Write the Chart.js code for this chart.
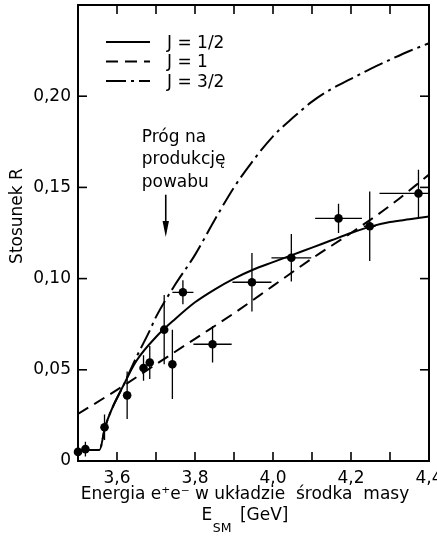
<!DOCTYPE html>
<html lang="pl">
<head>
<meta charset="utf-8">
<title>Stosunek R</title>
<script src="https://cdn.jsdelivr.net/npm/chart.js@4/dist/chart.umd.min.js"></script>
<style>
html,body{margin:0;padding:0;background:#fff;overflow:hidden;}
#wrap{position:relative;width:437px;height:536px;}
canvas{display:block;}
</style>
</head>
<body>
<div id="wrap"><canvas id="chart" width="437" height="536"></canvas></div>
<script>
// ---------- data ----------
const pointEnergy = [3.500, 3.519, 3.568, 3.626, 3.668, 3.684, 3.721, 3.742, 3.769, 3.845, 3.946, 4.047, 4.168, 4.248, 4.373];
const pointRatio  = [0.0050, 0.0065, 0.0185, 0.0360, 0.0510, 0.0540, 0.0720, 0.0530, 0.0925, 0.0640, 0.0980, 0.1114, 0.1330, 0.1287, 0.1467];
const ratioError  = [0.003, 0.004, 0.007, 0.013, 0.007, 0.009, 0.019, 0.019, 0.0066, 0.010, 0.016, 0.013, 0.008, 0.019, 0.013];
const energyError = [0, 0, 0, 0, 0, 0, 0, 0, 0.027, 0.049, 0.050, 0.051, 0.060, 0.015, 0.100];

const spinHalfEnergy = [3.50, 3.555, 3.57, 3.62, 3.65, 3.70, 3.75, 3.80, 3.85, 3.90, 3.95, 4.00, 4.05, 4.10, 4.15, 4.20, 4.25, 4.30, 4.35, 4.40];
const spinHalfRatio  = [0.006, 0.006, 0.019, 0.043, 0.055, 0.068, 0.078, 0.087, 0.094, 0.100, 0.105, 0.109, 0.113, 0.117, 0.121, 0.125, 0.1285, 0.131, 0.1325, 0.134];

const spinOneEnergy = [3.50, 3.60, 3.70, 3.80, 3.90, 4.00, 4.10, 4.20, 4.30, 4.40];
const spinOneRatio  = [0.0258, 0.039, 0.053, 0.067, 0.081, 0.096, 0.111, 0.125, 0.140, 0.157];

const spinThreeHalfEnergy = [3.50, 3.555, 3.57, 3.62, 3.65, 3.685, 3.70, 3.75, 3.80, 3.85, 3.90, 3.95, 4.00, 4.05, 4.10, 4.15, 4.20, 4.25, 4.30, 4.35, 4.40];
const spinThreeHalfRatio  = [0.006, 0.006, 0.019, 0.043, 0.057, 0.072, 0.079, 0.097, 0.113, 0.132, 0.150, 0.165, 0.178, 0.188, 0.197, 0.204, 0.2095, 0.215, 0.220, 0.2248, 0.229];

const seriesLabels = ['J = 1/2', 'J = 1', 'J = 3/2'];

const xTickValues = [3.6, 3.8, 4.0, 4.2, 4.4];
const xTickLabels = ['3,6', '3,8', '4,0', '4,2', '4,4'];
const xTickMarks  = [3.6, 3.7, 3.8, 3.9, 4.0, 4.1, 4.2, 4.3];
const yTickValues = [0, 0.05, 0.10, 0.15, 0.20];
const yTickLabels = ['0', '0,05', '0,10', '0,15', '0,20'];
const yTickMarks  = [0.05, 0.10, 0.15, 0.20];

const thresholdEnergy = 3.725;
const thresholdText = ['Próg na', 'produkcję', 'powabu'];
const yTitle = 'Stosunek R';
const xTitleLine1 = 'Energia e\u207Ae\u207B w układzie  środka  masy';

// ---------- build library data ----------
const toXY = (xs, ys) => xs.map((v, i) => ({x: v, y: ys[i]}));
const vBars = [];
pointEnergy.forEach((e, i) => {
  if (ratioError[i] > 0) {
    vBars.push({x: e, y: pointRatio[i] - ratioError[i]}, {x: e, y: pointRatio[i] + ratioError[i]}, {x: e, y: null});
  }
});
const hBars = [];
pointEnergy.forEach((e, i) => {
  if (energyError[i] > 0) {
    hBars.push({x: e - energyError[i], y: pointRatio[i]}, {x: e + energyError[i], y: pointRatio[i]}, {x: e, y: null});
  }
});

const FONT = '"DejaVu Sans", "Liberation Sans", sans-serif';
Chart.defaults.font.family = FONT;
Chart.defaults.color = '#000';

const decor = {
  id: 'decor',
  afterDraw(chart) {
    const {ctx, chartArea: a, scales} = chart;
    const sx = scales.x, sy = scales.y;
    const seg = (x1, y1, x2, y2) => { ctx.beginPath(); ctx.moveTo(x1, y1); ctx.lineTo(x2, y2); ctx.stroke(); };
    ctx.save();
    ctx.strokeStyle = '#000';
    ctx.fillStyle = '#000';
    ctx.lineCap = 'butt';
    // inward tick marks
    ctx.lineWidth = 1.6;
    const tl = 9;
    xTickMarks.forEach(v => {
      const px = sx.getPixelForValue(v);
      seg(px, a.bottom, px, a.bottom - tl);
      seg(px, a.top, px, a.top + tl);
    });
    yTickMarks.forEach(v => {
      const py = sy.getPixelForValue(v);
      seg(a.left, py, a.left + tl, py);
      seg(a.right, py, a.right - tl, py);
    });
    // legend
    const curves = chart.data.datasets.filter(d => seriesLabels.includes(d.label));
    ctx.font = '17px ' + FONT;
    ctx.textAlign = 'left';
    ctx.textBaseline = 'middle';
    curves.forEach((d, k) => {
      const yy = a.top + 37 + k * 19.5;
      ctx.lineWidth = d.borderWidth;
      ctx.setLineDash(d.borderDash || []);
      seg(a.left + 28, yy, a.left + 72, yy);
      ctx.setLineDash([]);
      ctx.fillText(d.label, a.left + 89, yy + 1.5);
    });
    // threshold arrow and note
    const ax = sx.getPixelForValue(thresholdEnergy);
    const ay1 = sy.getPixelForValue(0.146);
    const ay2 = sy.getPixelForValue(0.1228);
    ctx.lineWidth = 1.6;
    seg(ax, ay1, ax, ay2 - 10);
    ctx.beginPath();
    ctx.moveTo(ax - 3.2, ay2 - 16);
    ctx.lineTo(ax + 3.2, ay2 - 16);
    ctx.lineTo(ax, ay2);
    ctx.closePath();
    ctx.fill();
    ctx.textBaseline = 'alphabetic';
    thresholdText.forEach((t, i) => ctx.fillText(t, ax - 24, ay1 - 53 + i * 22.5));
    // y axis title
    ctx.save();
    ctx.translate(18, 216);
    ctx.rotate(-Math.PI / 2);
    ctx.textAlign = 'center';
    ctx.textBaseline = 'middle';
    ctx.fillText(yTitle, 0, 0);
    ctx.restore();
    // x axis title, line 1
    const cx = a.left + 167;
    ctx.textAlign = 'center';
    ctx.textBaseline = 'alphabetic';
    ctx.fillText(xTitleLine1, cx, 499);
    // line 2: E_SM [GeV]
    ctx.textAlign = 'left';
    const big = '17px ' + FONT, small = '12.5px ' + FONT;
    ctx.font = big; const wE = ctx.measureText('E').width; const wU = ctx.measureText('[GeV]').width;
    ctx.font = small; const wS = ctx.measureText('SM').width;
    const gap = 9;
    let x0 = cx - (wE + wS + gap + wU) / 2;
    ctx.font = big; ctx.fillText('E', x0, 520);
    ctx.font = small; ctx.fillText('SM', x0 + wE + 0.5, 531.5);
    ctx.font = big; ctx.fillText('[GeV]', x0 + wE + wS + gap, 520);
    ctx.restore();
  }
};

const noPad = s => { s.paddingLeft = 0; s.paddingRight = 0; s.paddingTop = 0; s.paddingBottom = 0; };

const axisBase = (min, max, pos) => ({
  type: 'linear', position: pos, min: min, max: max,
  grid: {display: false, drawTicks: false},
  border: {display: true, color: '#000', width: 2}
});

new Chart(document.getElementById('chart'), {
  type: 'line',
  data: {
    datasets: [
      {type: 'scatter', label: 'pomiary', data: toXY(pointEnergy, pointRatio), showLine: false,
       pointRadius: 4.3, pointBackgroundColor: '#000', pointBorderColor: '#000', pointBorderWidth: 0, clip: false, order: 0},
      {label: 'err-y', data: vBars, borderColor: '#000', borderWidth: 1.3, pointRadius: 0, spanGaps: false, tension: 0, order: 1},
      {label: 'err-x', data: hBars, borderColor: '#000', borderWidth: 1.3, pointRadius: 0, spanGaps: false, tension: 0, order: 1},
      {label: seriesLabels[0], data: toXY(spinHalfEnergy, spinHalfRatio), borderColor: '#000', borderWidth: 2,
       pointRadius: 0, cubicInterpolationMode: 'monotone', borderDash: [], order: 2},
      {label: seriesLabels[1], data: toXY(spinOneEnergy, spinOneRatio), borderColor: '#000', borderWidth: 2,
       pointRadius: 0, cubicInterpolationMode: 'monotone', borderDash: [12, 7], order: 2},
      {label: seriesLabels[2], data: toXY(spinThreeHalfEnergy, spinThreeHalfRatio), borderColor: '#000', borderWidth: 2,
       pointRadius: 0, cubicInterpolationMode: 'monotone', borderDash: [20, 5, 3, 5], order: 2}
    ]
  },
  options: {
    responsive: false,
    devicePixelRatio: 1,
    animation: false,
    events: [],
    layout: {padding: {left: 0, right: 8, top: 5, bottom: 0}},
    plugins: {legend: {display: false}, tooltip: {enabled: false}, title: {display: false}},
    scales: {
      x: Object.assign(axisBase(3.5, 4.4, 'bottom'), {
        afterBuildTicks: s => { s.ticks = xTickValues.map(v => ({value: v})); },
        afterFit: s => { s.height = 75; noPad(s); },
        ticks: {autoSkip: false, maxRotation: 0, minRotation: 0, padding: 7, color: '#000',
                font: {size: 17}, callback: (v, i) => xTickLabels[i]}
      }),
      xTop: Object.assign(axisBase(3.5, 4.4, 'top'), {
        ticks: {display: false}, afterFit: s => { s.height = 0; noPad(s); }
      }),
      y: Object.assign(axisBase(0, 0.25, 'left'), {
        afterBuildTicks: s => { s.ticks = yTickValues.map(v => ({value: v})); },
        afterFit: s => { s.width = 78; noPad(s); },
        ticks: {autoSkip: false, padding: 7, color: '#000', font: {size: 17},
                callback: (v, i) => yTickLabels[i]}
      }),
      yRight: Object.assign(axisBase(0, 0.25, 'right'), {
        ticks: {display: false}, afterFit: s => { s.width = 0; noPad(s); }
      })
    }
  },
  plugins: [decor]
});
</script>
</body>
</html>
